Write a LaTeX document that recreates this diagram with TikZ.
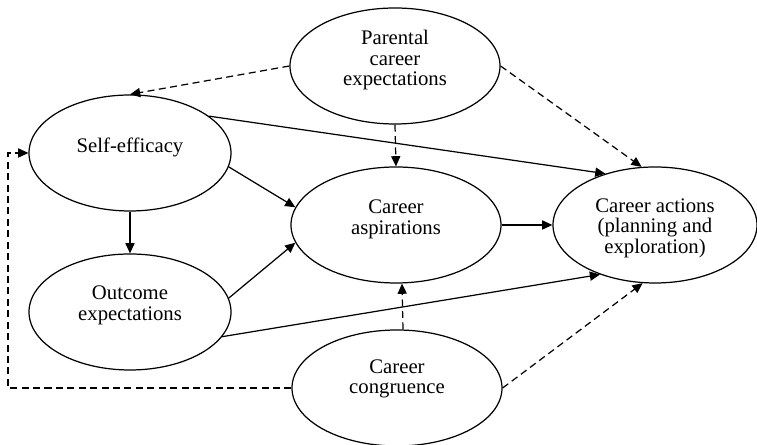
\documentclass[tikz,border=0pt]{standalone}
\usepackage{fontspec}
\setmainfont{Liberation Serif}
\usetikzlibrary{arrows.meta,shapes.geometric}
% text raised inside its oval, box size unchanged
\newcommand{\lifted}[2]{\raisebox{#1}[\height][\depth]{\begin{tabular}{@{}c@{}}#2\end{tabular}}}

\begin{document}
\begin{tikzpicture}[
    oval/.style={ellipse, draw, line width=0.7pt, minimum width=4.2cm, minimum height=2.32cm,
      inner sep=0pt, align=center, font=\fontsize{11.8}{11.6}\selectfont},
    arrow/.style={-{Triangle[length=5.8pt,width=5.2pt]}, line width=0.7pt},
    dasharrow/.style={arrow, dash pattern=on 4pt off 2.5pt}
  ]
    \useasboundingbox (0,0) rectangle (15.14,8.9);
    \node[oval] (par) at (7.9,7.58) {\lifted{0.1cm}{Parental\\career\\expectations}};
    \node[oval, minimum width=4.04cm] (self) at (2.6,5.84) {\lifted{0.1cm}{Self-efficacy}};
    \node[oval] (asp) at (7.92,4.4) {\lifted{0.1cm}{Career\\aspirations}};
    \node[oval, minimum width=4.08cm] (act) at (13.1,4.4) {\lifted{-0.07cm}{Career actions\\(planning and\\exploration)}};
    \node[oval, minimum width=4.04cm] (out) at (2.6,2.66) {\lifted{0.12cm}{Outcome\\expectations}};
    \node[oval] (cong) at (7.94,1.14) {\lifted{0.17cm}{Career\\congruence}};
    \coordinate (lane) at (0.16,0);

    \draw[dasharrow] (par.west)   -- (self.north);
    \draw[dasharrow] (par.east)   -- (act.103);
    \draw[dasharrow] (par.south)  -- (asp.north);
    \draw[arrow]     (self.25)    -- (act.134);
    \draw[arrow]     (self.-8)    -- (asp.170);
    \draw[arrow]     (self.south) -- (out.north);
    \draw[arrow]     (out.8)      -- (asp.190);
    \draw[arrow]     (out.-15)    -- (act.222);
    \draw[arrow]     (asp.east)   -- (act.west);
    \draw[dasharrow] ([xshift=0.12cm]cong.north) -- ([xshift=0.12cm]asp.south);
    \draw[dasharrow] (cong.east)  -- (act.258);
    \draw[dasharrow] (cong.west)  -- (cong.west -| lane) |- (self.west);
\end{tikzpicture}
\end{document}
